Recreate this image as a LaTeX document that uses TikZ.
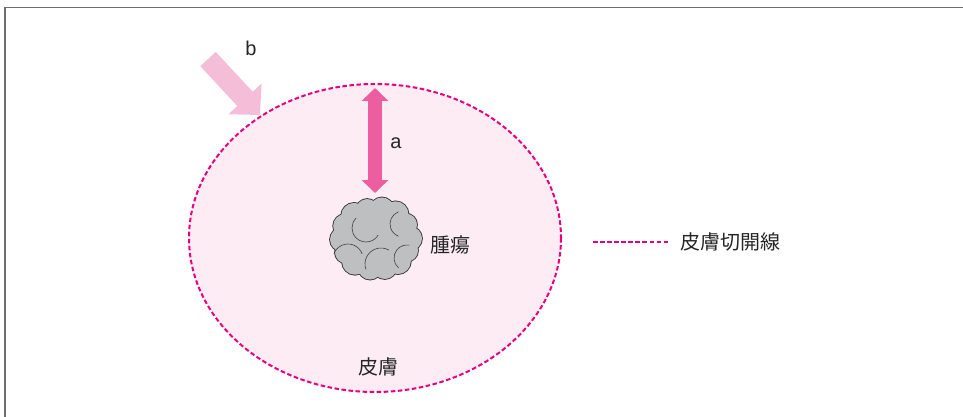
\documentclass[tikz,border=0pt]{standalone}
\usepackage{fontspec}
\setmainfont{Liberation Sans}
\newfontfamily\jp{Noto Sans CJK JP}
\usetikzlibrary{arrows.meta}

\definecolor{incision}{RGB}{230,0,126}
\definecolor{skinpink}{RGB}{253,236,244}
\definecolor{arrowpink}{RGB}{236,94,160}
\definecolor{lightpink}{RGB}{245,190,216}
\definecolor{tumorgray}{RGB}{190,191,193}
\definecolor{framegray}{RGB}{110,110,110}

\tikzset{
  lbl/.style={inner sep=0pt, font=\fontsize{15}{18}\selectfont, text=black!85},
  cut/.style={incision, line width=1.5pt, dash pattern=on 3.4pt off 1.9pt},
  lobe/.style={black!75, line width=0.45pt}
}

\begin{document}
\begin{tikzpicture}[x=0.75pt, y=-0.75pt]
  \useasboundingbox (0,0) rectangle (963,417);
  % frame
  \draw[framegray, line width=0.9pt] (5,417) -- (5,7.5) -- (963,7.5);

  % skin area with incision line
  \draw[cut, fill=skinpink] (375,238) ellipse [x radius=186, y radius=154];

  % tumor: ring of lobes, outline first, then the gray fill on top
  \coordinate (tumor) at (376,238.5);
  \foreach \t/\r in {0/12,24/11,50/13,75/12,100/12,128/13,152/11,178/12,
                     205/12,230/13,255/11,280/12,305/13,332/11}
    \draw[black!80, line width=1.3pt] ([shift={(\t:34 and 29.5)}]tumor) circle[radius=\r];
  \fill[tumorgray] (tumor) ellipse[x radius=36, y radius=31];
  \foreach \t/\r in {0/12,24/11,50/13,75/12,100/12,128/13,152/11,178/12,
                     205/12,230/13,255/11,280/12,305/13,332/11}
    \fill[tumorgray] ([shift={(\t:34 and 29.5)}]tumor) circle[radius=\r];
  % inner lobes
  \draw[lobe] (366,228) ++(-135:14) arc[start angle=-135, end angle=-330, radius=14];
  \draw[lobe] (348,259) ++(-160:15) arc[start angle=-160, end angle=-20, radius=15];
  \draw[lobe] (381,264) ++(-200:16) arc[start angle=-200, end angle=-60, radius=16];
  \draw[lobe] (407,258) ++(-230:13) arc[start angle=-230, end angle=-80, radius=13];
  \draw[lobe] (403,224) ++(-110:13) arc[start angle=-110, end angle=-250, radius=13];
  \node[lbl] (tumorlbl) at (450,245) {\jp 腫瘍};

  % distance a
  \coordinate (atop) at (375,88);
  \coordinate (abot) at (375,193);
  \draw[arrowpink, line width=10.5pt,
    {Triangle[width=19.5pt, length=9.75pt]}-{Triangle[width=19.5pt, length=9.75pt]}]
    (atop) -- (abot);
  \node[lbl] (alabel) at (396,143) {a};

  % direction b
  \coordinate (btail) at (208,59);
  \coordinate (btip) at (260,115);
  \draw[lightpink, line width=15.75pt, -{Triangle[width=33pt, length=16.5pt]}]
    (btail) -- (btip);
  \node[lbl] (blabel) at (251,48) {b};

  \node[lbl] (skin) at (378,367) {\jp 皮膚};

  % legend
  \coordinate (legA) at (593,242);
  \coordinate (legB) at (670,242);
  \draw[cut] (legA) -- (legB);
  \node[lbl, anchor=west] (leglbl) at (680,242) {\jp 皮膚切開線};
\end{tikzpicture}
\end{document}
